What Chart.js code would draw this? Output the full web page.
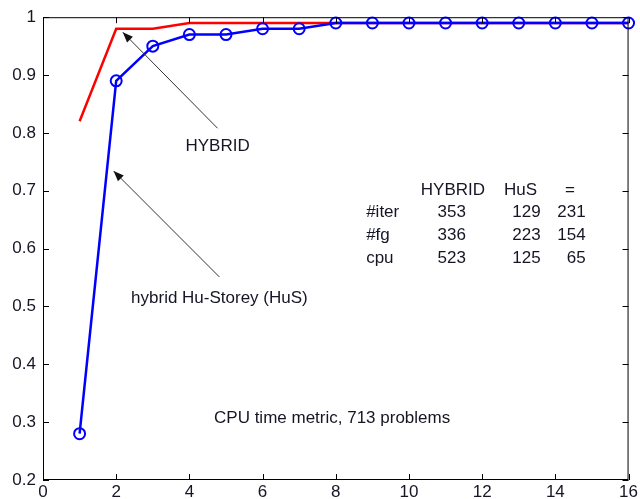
<!DOCTYPE html>
<html>
<head>
<meta charset="utf-8">
<script src="https://cdn.jsdelivr.net/npm/chart.js@4"></script>
<style>
  html, body { margin: 0; padding: 0; background: #fff; }
  #wrap { width: 640px; height: 499px; }
</style>
</head>
<body>
<div id="wrap"><canvas id="grafico"></canvas></div>
<script>
const xValores = [1, 2, 3, 4, 5, 6, 7, 8, 9, 10, 11, 12, 13, 14, 15, 16];
const hybrid = [0.82, 0.98, 0.98, 0.99, 0.99, 0.99, 0.99, 0.99, 0.99, 0.99, 0.99, 0.99, 0.99, 0.99, 0.99, 0.99];
const hus = [0.28, 0.89, 0.95, 0.97, 0.97, 0.98, 0.98, 0.99, 0.99, 0.99, 0.99, 0.99, 0.99, 0.99, 0.99, 0.99];

const xTicks = [0, 2, 4, 6, 8, 10, 12, 14, 16];
const yTicks = [0.2, 0.3, 0.4, 0.5, 0.6, 0.7, 0.8, 0.9, 1];

const tabelaColunas = ["HYBRID", "HuS", "="];
const tabelaLinhas = ["#iter", "#fg", "cpu"];
const tabelaValores = [
  [353, 129, 231],
  [336, 223, 154],
  [523, 125, 65]
];

const fonte = "17px 'Liberation Sans', Arial, sans-serif";
const corTexto = "#151525";

// caixa com marcas para dentro, nos quatro lados
const caixa = {
  id: "caixa",
  afterDraw(chart) {
    const { ctx, chartArea: a, scales } = chart;
    ctx.save();
    ctx.strokeStyle = "#000";
    ctx.lineWidth = 1;
    ctx.strokeRect(a.left + 0.5, a.top + 0.5, a.width - 1, a.height - 1);
    ctx.beginPath();
    xTicks.forEach(v => {
      const px = Math.round(scales.x.getPixelForValue(v)) + 0.5;
      ctx.moveTo(px, a.bottom); ctx.lineTo(px, a.bottom - 6);
      ctx.moveTo(px, a.top); ctx.lineTo(px, a.top + 6);
    });
    yTicks.forEach(v => {
      const py = Math.round(scales.y.getPixelForValue(v)) + 0.5;
      ctx.moveTo(a.left, py); ctx.lineTo(a.left + 6, py);
      ctx.moveTo(a.right, py); ctx.lineTo(a.right - 6, py);
    });
    ctx.stroke();
    ctx.restore();
  }
};

function seta(ctx, x1, y1, x2, y2) {
  const ang = Math.atan2(y2 - y1, x2 - x1);
  ctx.beginPath();
  ctx.moveTo(x1, y1);
  ctx.lineTo(x2, y2);
  ctx.stroke();
  ctx.beginPath();
  ctx.moveTo(x2, y2);
  ctx.lineTo(x2 - 11 * Math.cos(ang - 0.38), y2 - 11 * Math.sin(ang - 0.38));
  ctx.lineTo(x2 - 11 * Math.cos(ang + 0.38), y2 - 11 * Math.sin(ang + 0.38));
  ctx.closePath();
  ctx.fill();
}

// setas, legendas e tabela de resultados
const notas = {
  id: "notas",
  afterDraw(chart) {
    const { ctx, scales } = chart;
    const X = v => scales.x.getPixelForValue(v);
    const Y = v => scales.y.getPixelForValue(v);
    ctx.save();
    ctx.strokeStyle = "#333";
    ctx.fillStyle = "#111";
    ctx.lineWidth = 1;
    seta(ctx, X(4.77), Y(0.808), X(2.18), Y(0.974));
    seta(ctx, X(4.82), Y(0.551), X(1.93), Y(0.734));

    ctx.font = fonte;
    ctx.fillStyle = corTexto;
    ctx.textBaseline = "middle";
    ctx.textAlign = "center";
    ctx.fillText("HYBRID", X(4.77), Y(0.777));
    ctx.fillText("hybrid Hu-Storey (HuS)", X(4.82), Y(0.514));
    ctx.fillText("CPU time metric, 713 problems", X(7.9), Y(0.307));

    const colX = [11.2, 13.05, 14.4];
    const valX = [11.17, 13.6, 14.83];
    const linY = [0.663, 0.623, 0.584];
    tabelaColunas.forEach((t, i) => ctx.fillText(t, X(colX[i]), Y(0.701)));
    ctx.textAlign = "left";
    tabelaLinhas.forEach((t, i) => ctx.fillText(t, X(8.83), Y(linY[i])));
    tabelaValores.forEach((linha, i) => {
      linha.forEach((v, j) => {
        ctx.textAlign = j === 0 ? "center" : "right";
        ctx.fillText(String(v), X(valX[j]), Y(linY[i]));
      });
    });
    ctx.restore();
  }
};

const ctx = document.getElementById("grafico");

new Chart(ctx, {
  type: "line",
  data: {
    labels: xValores,
    datasets: [
      {
        label: "HuS",
        data: xValores.map((x, i) => ({ x: x, y: hus[i] })),
        borderColor: "#0000ff",
        borderWidth: 2.5,
        pointRadius: 5.5,
        pointBorderWidth: 2,
        pointBorderColor: "#0000ff",
        pointBackgroundColor: "rgba(0,0,0,0)",
        tension: 0,
        clip: false,
        order: 0
      },
      {
        label: "HYBRID",
        data: xValores.map((x, i) => ({ x: x, y: hybrid[i] })),
        borderColor: "#ff0000",
        borderWidth: 2.5,
        pointRadius: 0,
        tension: 0,
        order: 1
      }
    ]
  },
  options: {
    responsive: true,
    maintainAspectRatio: false,
    animation: false,
    layout: { padding: { top: 17, right: 10, left: 0, bottom: 0 } },
    plugins: {
      legend: { display: false },
      tooltip: { enabled: false }
    },
    scales: {
      x: {
        type: "linear",
        min: 0,
        max: 16,
        afterBuildTicks: s => { s.ticks = xTicks.map(v => ({ value: v })); },
        afterFit: s => { s.height = 19; },
        grid: { display: false, drawTicks: false },
        border: { display: false },
        ticks: { padding: 2, color: "#151525", font: { family: "'Liberation Sans', Arial", size: 17 }, maxRotation: 0 }
      },
      y: {
        min: 0.2,
        max: 1,
        afterBuildTicks: s => { s.ticks = yTicks.map(v => ({ value: v })); },
        afterFit: s => { s.width = 43; },
        grid: { display: false, drawTicks: false },
        border: { display: false },
        ticks: {
          padding: 7,
          color: "#151525",
          font: { family: "'Liberation Sans', Arial", size: 17 },
          callback: v => String(Math.round(v * 10) / 10)
        }
      }
    }
  },
  plugins: [caixa, notas]
});
</script>
</body>
</html>
